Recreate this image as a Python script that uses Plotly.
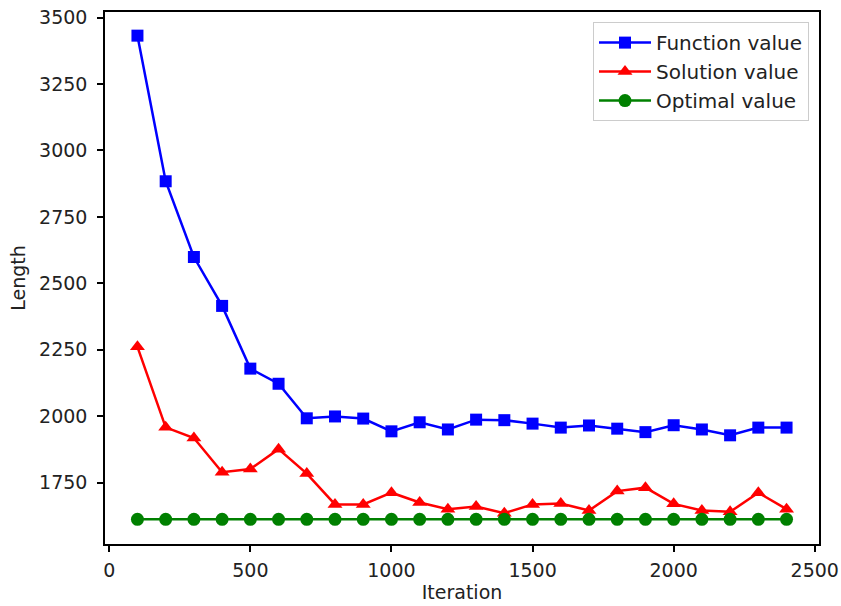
import plotly.graph_objects as go

iterations = [100, 200, 300, 400, 500, 600, 700, 800, 900, 1000, 1100, 1200,
              1300, 1400, 1500, 1600, 1700, 1800, 1900, 2000, 2100, 2200, 2300, 2400]
function_value = [3432, 2884, 2599, 2415, 2179, 2122, 1992, 1999, 1991, 1943, 1977, 1950,
                  1987, 1985, 1972, 1957, 1965, 1953, 1940, 1966, 1950, 1928, 1957, 1957]
solution_value = [2261, 1958, 1918, 1789, 1801, 1876, 1784, 1668, 1668, 1712, 1675, 1650,
                  1660, 1635, 1668, 1671, 1645, 1718, 1731, 1670, 1645, 1640, 1712, 1650]
optimal_value = [1612] * 24

x_ticks = [0, 500, 1000, 1500, 2000, 2500]
y_ticks = [1750, 2000, 2250, 2500, 2750, 3000, 3250, 3500]

font = dict(family="DejaVu Sans", size=19, color="#222222")

fig = go.Figure()
fig.add_trace(go.Scatter(x=iterations, y=function_value, mode="lines+markers",
                         name="Function value",
                         line=dict(color="#0000ff", width=2.5),
                         marker=dict(symbol="square", size=12, color="#0000ff")))
fig.add_trace(go.Scatter(x=iterations, y=solution_value, mode="lines+markers",
                         name="Solution value",
                         line=dict(color="#ff0000", width=2.5),
                         marker=dict(symbol="triangle-up", size=13, color="#ff0000")))
fig.add_trace(go.Scatter(x=iterations, y=optimal_value, mode="lines+markers",
                         name="Optimal value",
                         line=dict(color="#008000", width=2.5),
                         marker=dict(symbol="circle", size=13, color="#008000")))

fig.update_layout(
    width=841, height=606,
    margin=dict(l=105, r=22, t=12, b=62),
    paper_bgcolor="white", plot_bgcolor="white",
    font=font,
    showlegend=True,
    legend=dict(x=0.986, y=0.981, xanchor="right", yanchor="top",
                bgcolor="rgba(255,255,255,0.8)", bordercolor="#cccccc", borderwidth=1,
                font=dict(family="DejaVu Sans", size=20, color="#222222"),
                itemwidth=52),
)
fig.update_xaxes(range=[-15, 2515], tickvals=x_ticks, ticktext=[str(v) for v in x_ticks],
                 automargin=False,
                 showgrid=False, zeroline=False, showline=True, linecolor="black",
                 linewidth=1.5, mirror=True, ticks="outside", ticklen=6, tickcolor="black",
                 tickwidth=1.5, ticklabeloverflow="allow", ticklabelstandoff=2,
                 title=dict(text="Iteration", font=font, standoff=6))
fig.update_yaxes(range=[1519, 3521], tickvals=y_ticks, ticktext=[str(v) for v in y_ticks],
                 automargin=False,
                 showgrid=False, zeroline=False, showline=True, linecolor="black",
                 linewidth=1.5, mirror=True, ticks="outside", ticklen=6, tickcolor="black",
                 tickwidth=1.5, ticklabeloverflow="allow", ticklabelstandoff=6,
                 title=dict(text="Length", font=font, standoff=8))

fig.write_html(
    "out.html",
    config={"displayModeBar": False},
    post_script="document.body.style.margin='0';document.body.style.overflow='hidden';",
)
